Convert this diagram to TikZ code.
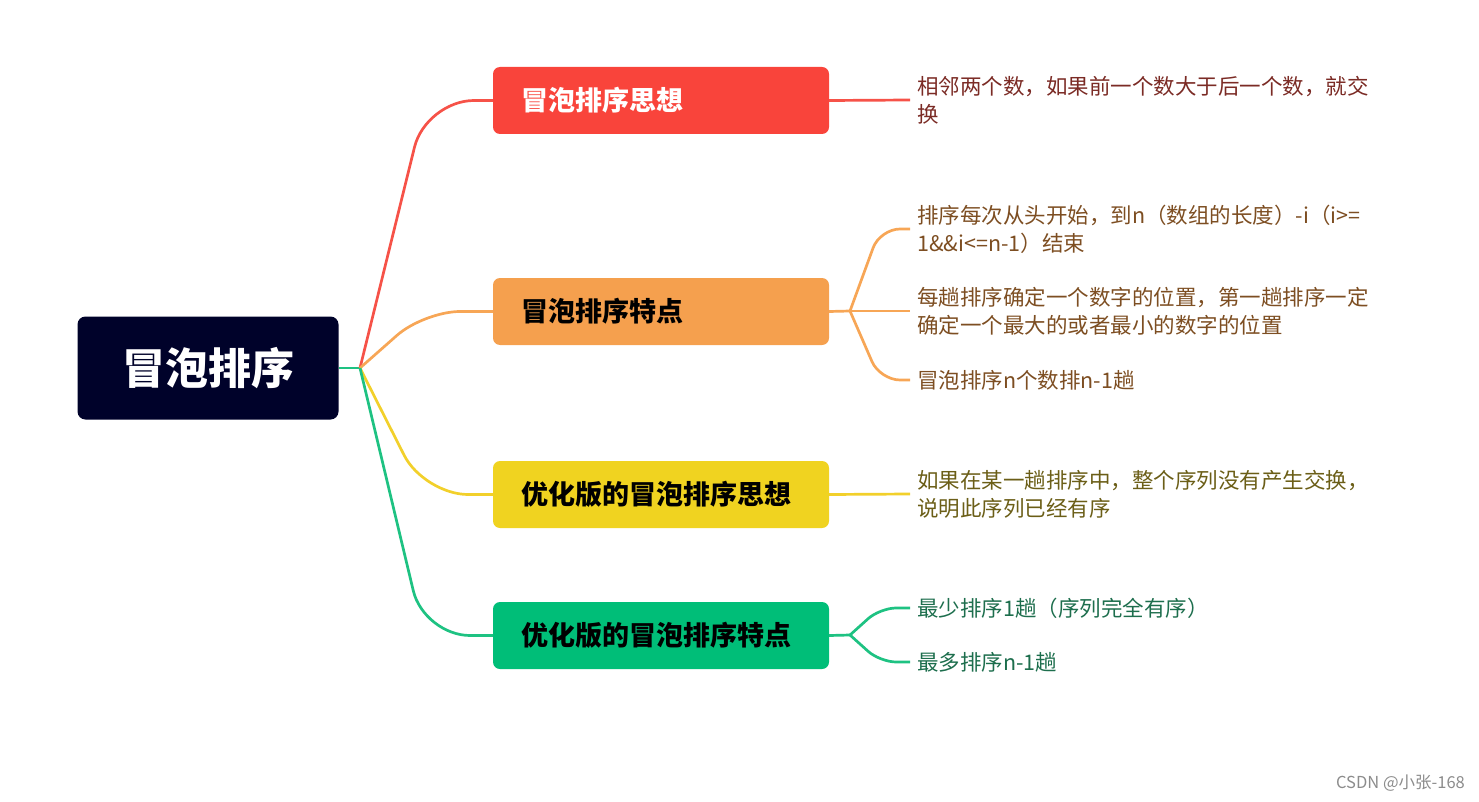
\documentclass[tikz,border=0pt]{standalone}
\usepackage{fontspec}
\setmainfont{Noto Sans CJK SC}
\usepackage{xcolor}
\usepackage{tikz}
\usetikzlibrary{positioning}
\definecolor{rootblue}{HTML}{00022A}
\definecolor{redbox}{HTML}{F9443B}
\definecolor{orangebox}{HTML}{F5A04E}
\definecolor{yellowbox}{HTML}{F0D320}
\definecolor{greenbox}{HTML}{00BE78}
\definecolor{redwire}{HTML}{F65248}
\definecolor{orangewire}{HTML}{F7A656}
\definecolor{yellowwire}{HTML}{F2D02B}
\definecolor{greenwire}{HTML}{1EC282}
\definecolor{redleaf}{HTML}{7B2B25}
\definecolor{orangeleaf}{HTML}{7D4E22}
\definecolor{yellowleaf}{HTML}{6B5E17}
\definecolor{greenleaf}{HTML}{1D6E4D}

\begin{document}
\begin{tikzpicture}[x=1pt, y=-1pt,
	rootbox/.style={fill=rootblue, rounded corners=8pt, minimum width=261pt, minimum height=103pt, inner sep=0pt, text=white, font=\fontsize{43}{50}\selectfont\bfseries},
	branchbox/.style={rounded corners=7pt, minimum width=336pt, minimum height=67pt, text width=280pt, inner xsep=28pt, inner ysep=0pt, align=left, font=\fontsize{27}{32}\selectfont\bfseries},
	leaf/.style={anchor=west, inner xsep=7pt, inner ysep=0pt, align=left, font=\fontsize{21.5}{28}\selectfont},
	wire/.style={line width=2.7pt, rounded corners=#1},
	wire/.default=40pt]
	\useasboundingbox (0,0) rectangle (1479,802);
	% Nodes:
	\node[rootbox](R) at (208,368){冒泡排序};
	\coordinate (H) at (360,368);
	\node[branchbox, fill=redbox, text=white](B1) at (661,100.5){冒泡排序思想};
	\node[branchbox, fill=orangebox](B2) at (661,311.5){冒泡排序特点};
	\node[branchbox, fill=yellowbox](B3) at (661,494.5){优化版的冒泡排序思想};
	\node[branchbox, fill=greenbox](B4) at (661,635.5){优化版的冒泡排序特点};
	\node[leaf, text=redleaf](L1) at (910,100){相邻两个数，如果前一个数大于后一个数，就交\\换};
	\node[leaf, text=orangeleaf](L21) at (910,229){排序每次从头开始，到n（数组的长度）-i（i>=\\1\&\&i<=n-1）结束};
	\node[leaf, text=orangeleaf](L22) at (910,311){每趟排序确定一个数字的位置，第一趟排序一定\\确定一个最大的或者最小的数字的位置};
	\node[leaf, text=orangeleaf](L23) at (910,380){冒泡排序n个数排n-1趟};
	\node[leaf, text=yellowleaf](L3) at (910,494){如果在某一趟排序中，整个序列没有产生交换，\\说明此序列已经有序};
	\node[leaf, text=greenleaf](L41) at (910,608){最少排序1趟（序列完全有序）};
	\node[leaf, text=greenleaf](L42) at (910,662){最多排序n-1趟};
	\coordinate (OH) at (850,311);
	\coordinate (GH) at (850,635);
	% Wires:
	\draw[wire, greenwire] (R.east) -- (H);
	\draw[wire=48pt, redwire] (H) -- (426,100.5) -- (B1.west);
	\draw[wire=36pt, orangewire] (H) -- (424,311.5) -- (B2.west);
	\draw[wire=44pt, yellowwire] (H) -- (424,494.5) -- (B3.west);
	\draw[wire=46pt, greenwire] (H) -- (424,635.5) -- (B4.west);
	\draw[wire, redwire] (B1.east) -- (L1.west);
	\draw[wire, orangewire] (B2.east) -- (OH);
	\draw[wire=20pt, orangewire] (OH) -- (880,229) -- (L21.west);
	\draw[wire, orangewire] (OH) -- (L22.west);
	\draw[wire=20pt, orangewire] (OH) -- (880,380) -- (L23.west);
	\draw[wire, yellowwire] (B3.east) -- (L3.west);
	\draw[wire, greenwire] (B4.east) -- (GH);
	\draw[wire=16pt, greenwire] (GH) -- (880,608) -- (L41.west);
	\draw[wire=16pt, greenwire] (GH) -- (880,662) -- (L42.west);
	% Watermark:
	\node[anchor=east, inner sep=0pt, text=black!45, font=\fontsize{16.5}{18}\selectfont](W) at (1465,783){CSDN @小张-168};
\end{tikzpicture}
\end{document}
